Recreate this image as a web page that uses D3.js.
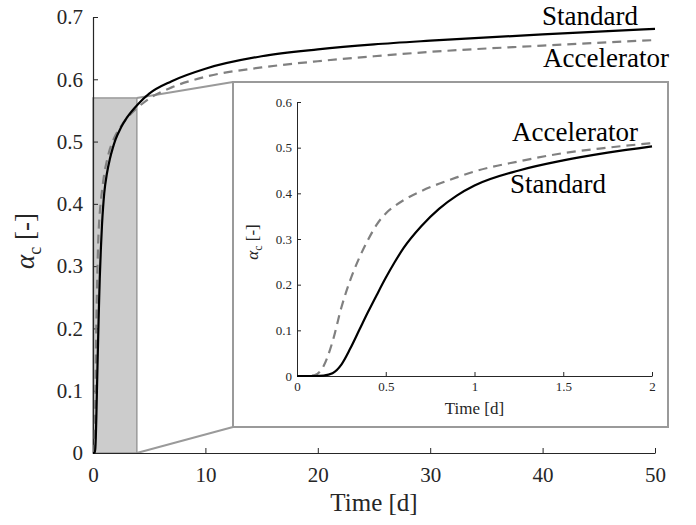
<!DOCTYPE html>
<html>
<head>
<meta charset="utf-8">
<script src="https://cdn.jsdelivr.net/npm/d3@7"></script>
<style>
  body { margin: 0; background: #fff; }
  .axis path, .axis line { stroke: #262626; }
  .axis text { fill: #262626; }
</style>
</head>
<body>
<div id="chart"></div>
<script>
// frame size
const FRAME_WIDTH = 696;
const FRAME_HEIGHT = 525;
const SERIF = "Liberation Serif";

// main plot area
const MAIN = {left: 93, right: 655, top: 17, bottom: 453};
// inset box and inset plot area
const BOX = {left: 233, right: 668, top: 82, bottom: 427};
const INSET = {left: 297, right: 652, top: 102, bottom: 376};

// data (time in days, degree of hydration)
const TIME = [0, 0.05, 0.1, 0.15, 0.2, 0.25, 0.3, 0.35, 0.4, 0.45, 0.5, 0.55, 0.6, 0.7, 0.8, 0.9, 1,
              1.25, 1.5, 1.75, 2, 2.5, 3, 4, 5, 7, 10, 15, 20, 25, 30, 40, 50];
const STANDARD = [0, 0, 0, 0.001, 0.006, 0.025, 0.06, 0.1, 0.14, 0.178, 0.215, 0.249, 0.28, 0.328, 0.366, 0.395, 0.417,
                  0.45, 0.472, 0.489, 0.503, 0.523, 0.538, 0.56, 0.577, 0.597, 0.617, 0.637, 0.648, 0.656, 0.662, 0.672, 0.681];
const ACCELERATOR = [0, 0, 0.002, 0.022, 0.075, 0.15, 0.21, 0.258, 0.298, 0.332, 0.356, 0.372, 0.385, 0.405, 0.421, 0.435, 0.448,
                     0.47, 0.488, 0.5, 0.51, 0.525, 0.537, 0.555, 0.569, 0.587, 0.604, 0.619, 0.629, 0.637, 0.644, 0.654, 0.663];

const MAIN_X_TICKS = [0, 10, 20, 30, 40, 50];
const MAIN_Y_TICKS = [0, 0.1, 0.2, 0.3, 0.4, 0.5, 0.6, 0.7];
const INSET_X_TICKS = [0, 0.5, 1, 1.5, 2];
const INSET_Y_TICKS = [0, 0.1, 0.2, 0.3, 0.4, 0.5, 0.6];

// zoomed region shown in the inset
const ZOOM_T = [0, 3.9];
const ZOOM_A = 0.57;

const FRAME = d3.select("#chart")
                .append("svg")
                  .attr("width", FRAME_WIDTH)
                  .attr("height", FRAME_HEIGHT)
                  .attr("font-family", SERIF);

// scales
const X_MAIN = d3.scaleLinear().domain([0, 50]).range([MAIN.left, MAIN.right]);
const Y_MAIN = d3.scaleLinear().domain([0, 0.7]).range([MAIN.bottom, MAIN.top]);
const X_INSET = d3.scaleLinear().domain([0, 2]).range([INSET.left, INSET.right]);
const Y_INSET = d3.scaleLinear().domain([0, 0.6]).range([INSET.bottom, INSET.top]);

const seriesData = (vals) => TIME.map((t, i) => ({t: t, a: vals[i]}));
const fmt = (d) => String(+d.toFixed(2));

// gray zoom rectangle
FRAME.append("rect")
       .attr("x", X_MAIN(ZOOM_T[0]))
       .attr("y", Y_MAIN(ZOOM_A))
       .attr("width", X_MAIN(ZOOM_T[1]) - X_MAIN(ZOOM_T[0]))
       .attr("height", Y_MAIN(0) - Y_MAIN(ZOOM_A))
       .attr("fill", "#cccccc")
       .attr("stroke", "#9a9a9a")
       .attr("stroke-width", 1.5);

// connector lines
FRAME.append("line")
       .attr("x1", X_MAIN(ZOOM_T[1])).attr("y1", Y_MAIN(ZOOM_A))
       .attr("x2", BOX.left).attr("y2", BOX.top)
       .attr("stroke", "#9a9a9a").attr("stroke-width", 2);
FRAME.append("line")
       .attr("x1", X_MAIN(ZOOM_T[1])).attr("y1", Y_MAIN(0))
       .attr("x2", BOX.left).attr("y2", BOX.bottom)
       .attr("stroke", "#9a9a9a").attr("stroke-width", 2);

// main axes
FRAME.append("g")
       .attr("class", "axis")
       .attr("transform", "translate(0," + MAIN.bottom + ")")
       .call(d3.axisBottom(X_MAIN).tickValues(MAIN_X_TICKS).tickSizeInner(-5).tickSizeOuter(0).tickPadding(14).tickFormat(fmt))
       .attr("font-size", "21px")
       .attr("font-family", SERIF);
FRAME.append("g")
       .attr("class", "axis")
       .attr("transform", "translate(" + MAIN.left + ",0)")
       .call(d3.axisLeft(Y_MAIN).tickValues(MAIN_Y_TICKS).tickSizeInner(-5).tickSizeOuter(0).tickPadding(10).tickFormat(fmt))
       .attr("font-size", "21px")
       .attr("font-family", SERIF);
FRAME.selectAll(".axis path").attr("stroke-width", 1.2);

// main curves
const lineMain = d3.line().x((d) => X_MAIN(d.t)).y((d) => Y_MAIN(d.a)).curve(d3.curveMonotoneX);
FRAME.append("path")
       .datum(seriesData(ACCELERATOR))
       .attr("d", lineMain)
       .attr("fill", "none")
       .attr("stroke", "#808080")
       .attr("stroke-width", 2.2)
       .attr("stroke-dasharray", "9,6");
FRAME.append("path")
       .datum(seriesData(STANDARD))
       .attr("d", lineMain)
       .attr("fill", "none")
       .attr("stroke", "#000")
       .attr("stroke-width", 2.2);

// main labels
FRAME.append("text").attr("x", 590).attr("y", 25).attr("text-anchor", "middle")
       .attr("font-size", "27px").text("Standard");
FRAME.append("text").attr("x", 606).attr("y", 67).attr("text-anchor", "middle")
       .attr("font-size", "27px").text("Accelerator");
FRAME.append("text").attr("x", (MAIN.left + MAIN.right) / 2).attr("y", 511).attr("text-anchor", "middle")
       .attr("font-size", "25px").attr("fill", "#262626").text("Time [d]");

const yLabMain = FRAME.append("text")
       .attr("transform", "translate(34,241) rotate(-90)")
       .attr("text-anchor", "middle")
       .attr("font-size", "27px")
       .attr("fill", "#262626");
yLabMain.append("tspan").attr("font-style", "italic").text("α");
yLabMain.append("tspan").attr("font-size", "18px").attr("dy", 7).text("c");
yLabMain.append("tspan").attr("dy", -7).text(" [-]");

// inset box
FRAME.append("rect")
       .attr("x", BOX.left).attr("y", BOX.top)
       .attr("width", BOX.right - BOX.left).attr("height", BOX.bottom - BOX.top)
       .attr("fill", "#fff")
       .attr("stroke", "#9a9a9a")
       .attr("stroke-width", 2);

// inset axes
FRAME.append("g")
       .attr("class", "axis")
       .attr("transform", "translate(0," + INSET.bottom + ")")
       .call(d3.axisBottom(X_INSET).tickValues(INSET_X_TICKS).tickSizeInner(-4).tickSizeOuter(0).tickPadding(6).tickFormat(fmt))
       .attr("font-size", "13px")
       .attr("font-family", SERIF);
FRAME.append("g")
       .attr("class", "axis")
       .attr("transform", "translate(" + INSET.left + ",0)")
       .call(d3.axisLeft(Y_INSET).tickValues(INSET_Y_TICKS).tickSizeInner(-4).tickSizeOuter(0).tickPadding(5).tickFormat(fmt))
       .attr("font-size", "13px")
       .attr("font-family", SERIF);

// inset curves (only the zoomed part)
const lineInset = d3.line().x((d) => X_INSET(d.t)).y((d) => Y_INSET(d.a)).curve(d3.curveMonotoneX);
FRAME.append("path")
       .datum(seriesData(ACCELERATOR).filter((d) => d.t <= 2))
       .attr("d", lineInset)
       .attr("fill", "none")
       .attr("stroke", "#808080")
       .attr("stroke-width", 2.2)
       .attr("stroke-dasharray", "9,6");
FRAME.append("path")
       .datum(seriesData(STANDARD).filter((d) => d.t <= 2))
       .attr("d", lineInset)
       .attr("fill", "none")
       .attr("stroke", "#000")
       .attr("stroke-width", 2.2);

// inset labels
FRAME.append("text").attr("x", 575).attr("y", 141).attr("text-anchor", "middle")
       .attr("font-size", "27px").text("Accelerator");
FRAME.append("text").attr("x", 558).attr("y", 193).attr("text-anchor", "middle")
       .attr("font-size", "27px").text("Standard");
FRAME.append("text").attr("x", (INSET.left + INSET.right) / 2).attr("y", 414).attr("text-anchor", "middle")
       .attr("font-size", "17px").attr("fill", "#262626").text("Time [d]");

const yLabInset = FRAME.append("text")
       .attr("transform", "translate(258,242) rotate(-90)")
       .attr("text-anchor", "middle")
       .attr("font-size", "17px")
       .attr("fill", "#262626");
yLabInset.append("tspan").attr("font-style", "italic").text("α");
yLabInset.append("tspan").attr("font-size", "12px").attr("dy", 4).text("c");
yLabInset.append("tspan").attr("dy", -4).text(" [-]");
</script>
</body>
</html>
